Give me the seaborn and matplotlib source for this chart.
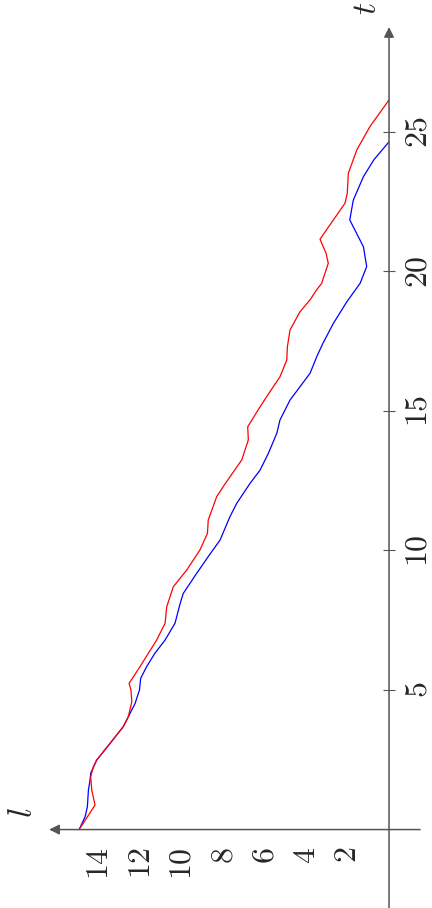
import matplotlib
matplotlib.use("Agg")
import matplotlib.pyplot as plt
import seaborn as sns

# l(t) (t = time, l = length)
blue_t = [0.0, 0.46, 0.82, 1.42, 1.78, 2.02, 2.49, 3.09, 3.69, 4.04, 4.52, 5.0, 5.42, 5.84,
          6.32, 6.79, 7.39, 8.1, 8.46, 9.18, 9.78, 10.37, 11.21, 11.69, 12.4, 12.88, 13.48,
          14.2, 14.67, 15.39, 16.35, 16.94, 17.42, 18.14, 18.9, 19.57, 20.17, 20.88, 21.84,
          22.55, 23.39, 24.0, 24.64]
blue_l = [15.0, 14.71, 14.6, 14.55, 14.47, 14.44, 14.15, 13.5, 12.86, 12.62, 12.29, 12.08, 12.02,
          11.73, 11.33, 10.84, 10.36, 10.11, 9.96, 9.31, 8.75, 8.18, 7.7, 7.37, 6.73, 6.24, 5.84,
          5.43, 5.28, 4.79, 3.82, 3.5, 3.2, 2.69, 2.05, 1.4, 1.08, 1.24, 1.9,
          1.73, 1.24, 0.73, 0.0]

red_t = [0.0, 0.88, 1.42, 1.9, 2.25, 2.49, 3.09, 3.69, 4.04, 4.58, 5.0, 5.24, 5.84, 6.8, 7.39,
         7.98, 8.7, 9.3, 10.02, 10.61, 11.09, 11.93, 12.38, 13.24, 13.96, 14.43, 15.15, 15.69,
         16.22, 16.82, 17.3, 17.9, 18.55, 18.98, 19.34, 19.57, 20.29, 20.65, 21.15, 22.44,
         22.8, 23.51, 24.35, 25.19, 26.14]
red_l = [15.0, 14.23, 14.39, 14.44, 14.31, 14.15, 13.5, 12.86, 12.62, 12.45, 12.49, 12.58, 12.05,
         11.24, 10.84, 10.76, 10.44, 9.79, 9.15, 8.79, 8.75, 8.34, 7.94, 7.13, 6.81, 6.84, 6.24,
         5.76, 5.28, 4.95, 4.92, 4.79, 4.31, 3.82, 3.5, 3.26, 2.94, 3.05, 3.34, 2.13,
         2.02, 1.97, 1.56, 0.92, 0.0]

l_ticks = [2, 4, 6, 8, 10, 12, 14]
t_ticks = [5, 10, 15, 20, 25]

sns.set_style("white")
plt.rcParams["mathtext.fontset"] = "cm"
axis_col = "#555555"

fig = plt.figure(figsize=(4.32, 9.08), dpi=100)
ax = fig.add_axes([0, 0, 1, 1])

# the whole plot is turned a quarter turn: t runs up, l runs to the left
sns.lineplot(x=blue_l, y=blue_t, sort=False, estimator=None, color="blue", lw=0.9, ax=ax)
sns.lineplot(x=red_l, y=red_t, sort=False, estimator=None, color="red", lw=0.9, ax=ax)

ax.set_xlim(18.83, -2.08)
ax.set_ylim(-2.81, 29.72)

for s in ["top", "left", "bottom", "right"]:
    ax.spines[s].set_visible(False)
ax.spines["bottom"].set_position(("data", 0))
ax.spines["right"].set_position(("data", 0))
ax.yaxis.tick_right()

# axis lines with arrow tips
arrow = dict(arrowstyle="-|>,head_length=0.6,head_width=0.3", color=axis_col, lw=1.1,
             shrinkA=0, shrinkB=0, mutation_scale=10)
ax.annotate("", xy=(16.45, 0), xytext=(-1.5, 0), arrowprops=arrow)
ax.annotate("", xy=(0, 28.75), xytext=(0, -2.81), arrowprops=arrow)

ax.set_xticks(l_ticks, labels=[f"${v}$" for v in l_ticks])
ax.set_yticks(t_ticks, labels=[f"${v}$" for v in t_ticks])
ax.tick_params(axis="both", direction="inout", length=9, width=0.8, color=axis_col,
               labelsize=23, labelrotation=90)
ax.tick_params(axis="x", pad=8)
ax.tick_params(axis="y", pad=5)
for lab in ax.get_yticklabels():
    lab.set_verticalalignment("center")
ax.set_xlabel("")
ax.set_ylabel("")

ax.text(17.72, 0.6, "$l$", fontsize=24, rotation=90, ha="center", va="center")
ax.text(1.11, 29.43, "$t$", fontsize=24, rotation=90, ha="center", va="center")

fig.savefig("out.png", dpi=100)
